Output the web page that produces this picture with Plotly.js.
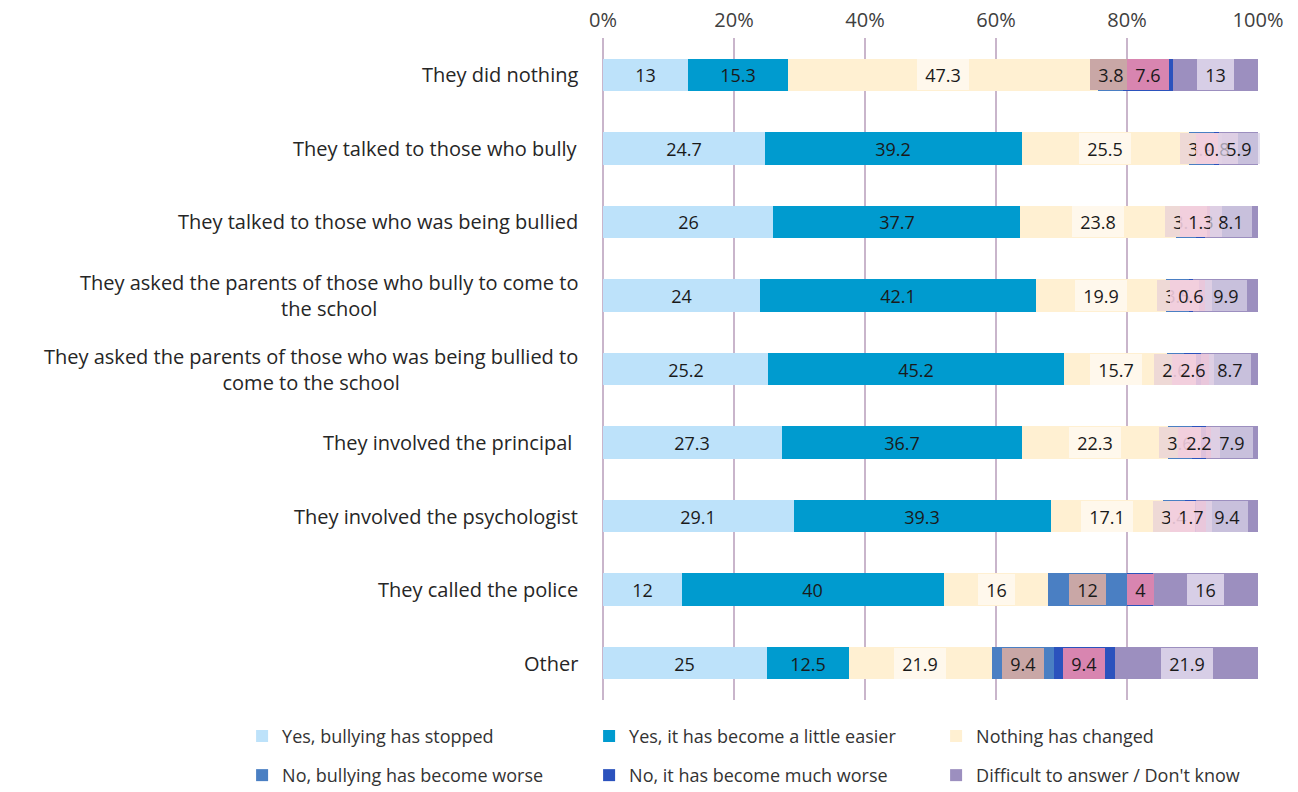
<!DOCTYPE html>
<html><head><meta charset="utf-8">
<script src="https://cdn.plot.ly/plotly-3.0.1.min.js"></script>
<style>html,body{margin:0;padding:0;background:#fff}#chart{width:1298px;height:792px}</style>
</head><body><div id="chart"></div><script>
const categories = [
  "They did nothing",
  "They talked to those who bully",
  "They talked to those who was being bullied",
  "They asked the parents of those who bully to come to<br>the school",
  "They asked the parents of those who was being bullied to<br>come to the school",
  "They involved the principal ",
  "They involved the psychologist",
  "They called the police",
  "Other"
];
const stopped   = [13, 24.7, 26, 24, 25.2, 27.3, 29.1, 12, 25];
const easier    = [15.3, 39.2, 37.7, 42.1, 45.2, 36.7, 39.3, 40, 12.5];
const nothing   = [47.3, 25.5, 23.8, 19.9, 15.7, 22.3, 17.1, 16, 21.9];
const worse     = [3.8, 3.9, 3.1, 3.5, 2.6, 3.6, 3.4, 12, 9.4];
const muchWorse = [7.6, 0.8, 1.3, 0.6, 2.6, 2.2, 1.7, 4, 9.4];
const dontKnow  = [13, 5.9, 8.1, 9.9, 8.7, 7.9, 9.4, 16, 21.9];
const seriesNames = [
  "Yes, bullying has stopped",
  "Yes, it has become a little easier",
  "Nothing has changed",
  "No, bullying has become worse",
  "No, it has become much worse",
  "Difficult to answer / Don't know"
];
const tickValues = [0, 20, 40, 60, 80, 100];
const tickLabels = ["0%", "20%", "40%", "60%", "80%", "100%"];

const series = [stopped, easier, nothing, worse, muchWorse, dontKnow];
const barColors = ["#bde2fa", "#009bcf", "#fff0d2", "#4a7fc3", "#2b52bd", "#9c8fbf"];
// label box colours: normal, and where crowded labels overlap
const boxWide   = ["#bde2fa", "#009bcf", "#fff8ec", "#c9a7a6", "#d885b0", "rgba(218,210,232,0.95)"];
const boxNarrow = ["#bde2fa", "#009bcf", "#fff8ec", "#eed9d6", "rgba(242,205,222,0.9)", "rgba(218,210,232,0.72)"];
const legendIds = ["legend", "legend", "legend", "legend2", "legend2", "legend2"];
const FONT = "Open Sans, sans-serif";

const traces = series.map((vals, i) => ({
  type: "bar",
  orientation: "h",
  y: categories,
  x: vals,
  name: seriesNames[i],
  legend: legendIds[i],
  marker: {color: barColors[i], line: {width: 0}},
  hoverinfo: "skip",
  textposition: "none"
}));

const annotations = [];
categories.forEach((cat, r) => {
  let cum = 0;
  const crowded = muchWorse[r] < 3 || worse[r] < 3;
  series.forEach((vals, i) => {
    const v = vals[r];
    const narrow = i >= 3 ? crowded : false;
    annotations.push({
      x: cum + v / 2, y: cat, xref: "x", yref: "y",
      text: "\u00a0" + v + "\u00a0",
      showarrow: false,
      font: {family: FONT, size: 18, color: "#1a1a1a"},
      bgcolor: narrow ? boxNarrow[i] : boxWide[i],
      borderpad: 3.5, borderwidth: 0
    });
    cum += v;
  });
});
categories.forEach((cat) => {
  annotations.push({
    x: -0.035, xref: "paper", y: cat, yref: "y",
    xanchor: "right", align: "center",
    text: cat, showarrow: false,
    font: {family: FONT, size: 20, color: "#262626"}
  });
});

const legendBase = {
  orientation: "h", x: -0.551, xanchor: "left", yanchor: "top",
  entrywidth: 302, entrywidthmode: "pixels",
  font: {family: FONT, size: 18, color: "#333333"}, traceorder: "normal",
  bgcolor: "rgba(0,0,0,0)"
};

const layout = {
  width: 1298, height: 792,
  margin: {l: 603, r: 40, t: 38, b: 92, autoexpand: false},
  paper_bgcolor: "#ffffff", plot_bgcolor: "#ffffff",
  barmode: "stack",
  bargap: 0.56,
  font: {family: FONT, color: "#404040"},
  xaxis: {
    side: "top", range: [0, 100], tickvals: tickValues, ticktext: tickLabels,
    showgrid: true, gridcolor: "#c9b5cb", gridwidth: 1.5,
    zeroline: true, zerolinecolor: "#c9b5cb", zerolinewidth: 1.5,
    showline: false, ticks: "", ticklabelstandoff: 6,
    tickfont: {family: FONT, size: 20, color: "#404040"}
  },
  yaxis: {
    type: "category", autorange: "reversed", showticklabels: false,
    showgrid: false, zeroline: false, ticks: ""
  },
  showlegend: true,
  legend: Object.assign({}, legendBase, {y: -0.027}),
  legend2: Object.assign({}, legendBase, {y: -0.086}),
  annotations: annotations
};

Plotly.newPlot("chart", traces, layout, {staticPlot: true, displayModeBar: false});
</script></body></html>
